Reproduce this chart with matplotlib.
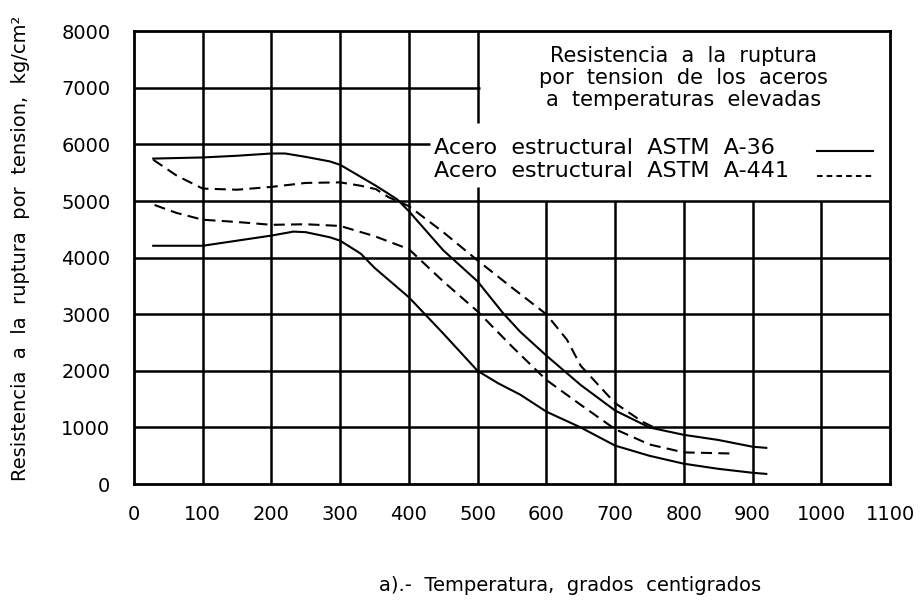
import matplotlib
matplotlib.use("Agg")
import matplotlib.pyplot as plt

plt.rcParams['font.family'] = ['DejaVu Sans']
plt.rcParams['lines.scale_dashes'] = False

# Temperature axis (deg C) and tensile rupture strength (kg/cm2)
x_ticks = [0, 100, 200, 300, 400, 500, 600, 700, 800, 900, 1000, 1100]
y_ticks = [0, 1000, 2000, 3000, 4000, 5000, 6000, 7000, 8000]

# ASTM A-36, upper bound
t_a36_hi = [28, 100, 150, 200, 220, 250, 285, 300, 352, 383, 400, 450, 500, 537,
            562, 600, 650, 700, 750, 800, 850, 900, 920]
s_a36_hi = [5750, 5770, 5800, 5840, 5840, 5780, 5700, 5640, 5270, 5030, 4820, 4130,
            3580, 3020, 2690, 2270, 1750, 1300, 1000, 870, 780, 660, 640]

# ASTM A-36, lower bound
t_a36_lo = [28, 100, 150, 200, 232, 250, 285, 300, 330, 350, 400, 450, 500, 530,
            562, 600, 650, 700, 750, 800, 850, 900, 920]
s_a36_lo = [4210, 4210, 4300, 4390, 4460, 4450, 4360, 4300, 4070, 3820, 3300, 2660,
            2000, 1780, 1580, 1280, 1000, 680, 500, 360, 270, 200, 180]

# ASTM A-441, upper bound
t_a441_hi = [28, 62, 100, 150, 200, 250, 300, 330, 352, 370, 400, 450, 500, 550,
             600, 630, 650, 700, 740, 760]
s_a441_hi = [5730, 5450, 5220, 5200, 5250, 5320, 5330, 5270, 5210, 5070, 4910, 4450,
             3950, 3470, 3000, 2550, 2090, 1430, 1100, 980]

# ASTM A-441, lower bound
t_a441_lo = [30, 62, 100, 150, 200, 250, 300, 350, 400, 450, 500, 550, 600, 650,
             700, 750, 800, 870]
s_a441_lo = [4930, 4790, 4670, 4630, 4580, 4590, 4560, 4380, 4150, 3580, 3050, 2430,
             1840, 1400, 970, 700, 560, 540]

title_lines = ["Resistencia  a  la  ruptura",
               "por  tension  de  los  aceros",
               "a  temperaturas  elevadas"]
legend_labels = ["Acero  estructural  ASTM  A-36", "Acero  estructural  ASTM  A-441"]

fig = plt.figure(figsize=(9.22, 6.12), dpi=100)
ax = fig.add_axes([0.1453, 0.209, 0.820, 0.740])
ax.set_xlim(0, 1100)
ax.set_ylim(0, 8000)

FS = 14
GRID_LW = 1.8
CURVE_LW = 1.5
DASH = (8, 4.5)

# Grid, leaving the area occupied by the caption box clear
for y in y_ticks[1:-1]:
    x_end = 1100
    if y == 6000:
        x_end = 430
    elif y == 7000:
        x_end = 503
    ax.hlines(y, 0, x_end, colors='black', lw=GRID_LW, zorder=1)
for x in x_ticks[1:-1]:
    if x <= 400:
        ax.vlines(x, 0, 8000, colors='black', lw=GRID_LW, zorder=1)
    elif x == 500:
        ax.vlines(x, 0, 5250, colors='black', lw=GRID_LW, zorder=1)
        ax.vlines(x, 6370, 8000, colors='black', lw=GRID_LW, zorder=1)
    else:
        ax.vlines(x, 0, 5000, colors='black', lw=GRID_LW, zorder=1)

# Curves
ax.plot(t_a36_hi, s_a36_hi, color='black', lw=CURVE_LW, zorder=3)
ax.plot(t_a36_lo, s_a36_lo, color='black', lw=CURVE_LW, zorder=3)
ax.plot(t_a441_hi, s_a441_hi, color='black', lw=CURVE_LW, dashes=DASH, zorder=3)
ax.plot(t_a441_lo, s_a441_lo, color='black', lw=CURVE_LW, dashes=DASH, zorder=3)

# Caption box text
for i, line in enumerate(title_lines):
    ax.text(800, 7570 - i * 395, line, ha='center', va='center', fontsize=15, zorder=4)
ax.text(436, 5930, legend_labels[0], ha='left', va='center', fontsize=16, zorder=4)
ax.text(436, 5530, legend_labels[1], ha='left', va='center', fontsize=16, zorder=4)
ax.plot([994, 1075], [5880, 5880], color='black', lw=CURVE_LW, zorder=4)
ax.plot([994, 1075], [5450, 5450], color='black', lw=CURVE_LW, dashes=(4, 3), zorder=4)

# Frame and ticks
for sp in ax.spines.values():
    sp.set_linewidth(2.0)
ax.set_xticks(x_ticks)
ax.set_yticks(y_ticks)
ax.set_xticklabels([str(v) for v in x_ticks], fontsize=FS)
ax.set_yticklabels([str(v) for v in y_ticks], fontsize=FS)
ax.tick_params(axis='x', length=0, pad=15)
ax.tick_params(axis='y', length=0, pad=17)

fig.text(0.022, 0.595, "Resistencia  a  la  ruptura  por  tension,  kg/cm²",
         rotation=90, ha='center', va='center', fontsize=FS)
fig.text(0.618, 0.044, "a).-  Temperatura,  grados  centigrados",
         ha='center', va='center', fontsize=FS)

fig.savefig("out.png", dpi=100, facecolor='white')
